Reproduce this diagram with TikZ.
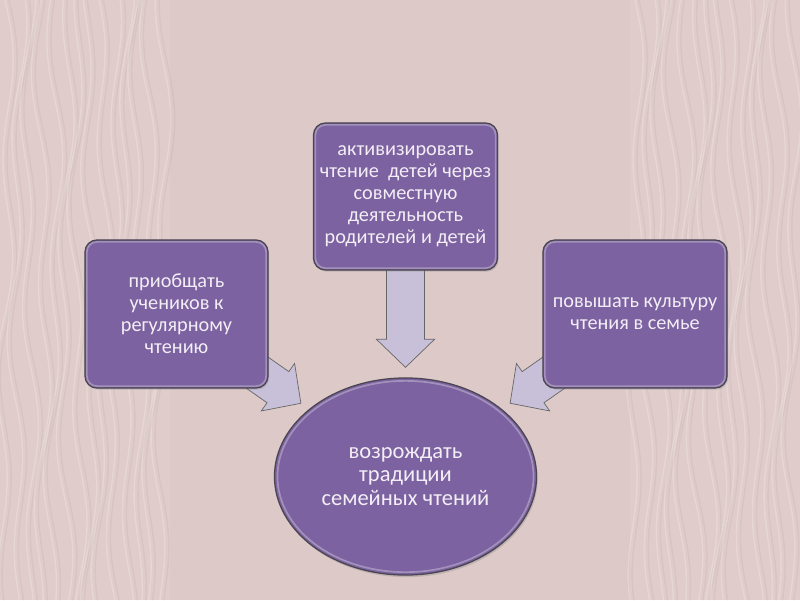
\documentclass[tikz,border=0pt]{standalone}
\usepackage{fontspec}
\setmainfont{Carlito}
\usepackage{tikz}
\usetikzlibrary{calc,positioning,shapes.geometric,shadows}
\definecolor{slidebg}{HTML}{DCC9C8}
\definecolor{stripbg}{HTML}{DFCCCB}
\definecolor{boxpurple}{HTML}{7C62A0}
\definecolor{boxedge}{HTML}{4A4550}
\definecolor{arrowfill}{HTML}{C8C0D8}
\definecolor{textlight}{HTML}{F3EEF5}
\pgfdeclarelayer{bg}
\pgfdeclarelayer{arrowlayer}
\pgfsetlayers{bg,arrowlayer,main}
\tikzset{
  goalbox/.style={draw=boxedge,line width=0.9pt,fill=boxpurple,rounded corners=0.3cm,align=center,text=textlight,
    font=\fontsize{14.4}{15.6}\selectfont,inner sep=2pt,drop shadow={opacity=0.3,shadow xshift=0.8pt,shadow yshift=-1.2pt}},
  goaloval/.style={ellipse,draw=boxedge,line width=0.9pt,fill=boxpurple,align=center,text=textlight,inner sep=0pt,
    font=\fontsize{16}{16.5}\selectfont,minimum width=6.55cm,minimum height=4.925cm,drop shadow={opacity=0.3,shadow xshift=0.8pt,shadow yshift=-1.5pt}},
  rim/.style={white,opacity=0.3,line width=1.2pt},
  blockarr/.style={draw=black!60,line width=0.5pt,fill=arrowfill,line join=miter},
  wave/.style={line width=1pt,line cap=round}
}

\begin{document}
\begin{tikzpicture}[x=0.025cm,y=-0.025cm]
\useasboundingbox (0,0) rectangle (800,600);
% slide background with the two grainy side strips
\begin{pgfonlayer}{bg}
\fill[slidebg] (0,0) rectangle (800,600);
\fill[stripbg] (0,0) rectangle (170,600);
\fill[stripbg] (630,0) rectangle (800,600);
\foreach \s in {0,630}{
  \foreach \k in {0,...,13}{
    \draw[wave,white,opacity=0.22] plot[variable=\t,domain=0:600,samples=70,smooth]
      ({\s+5+\k*12+6*sin(\t*1.7+\k*47)+4*sin(\t*0.6+\k*83)},\t);
    \draw[wave,black,opacity=0.035] plot[variable=\t,domain=0:600,samples=70,smooth]
      ({\s+9+\k*12+6*sin(\t*1.7+\k*47)+4*sin(\t*0.6+\k*83)},\t);
  }
}
\end{pgfonlayer}

\node[goalbox,minimum width=4.6cm,minimum height=3.675cm] (read) at (405.5,196.5)
  {активизировать\\чтение~ детей через\\совместную\\деятельность\\родителей и детей};
\node[goalbox,minimum width=4.575cm,minimum height=3.7cm] (habit) at (176.5,314)
  {приобщать\\учеников к\\регулярному\\чтению};
\node[goalbox,minimum width=4.6cm,minimum height=3.7cm] (culture) at (635,314)
  {повышать культуру\\чтения в семье};
\node[goaloval] (revive) at (405.5,476.5) {возрождать\\традиции\\семейных чтений};

% soft inner rims
\foreach \b in {read,habit,culture}{
  \draw[rim,rounded corners=0.25cm] ([shift={(1.8pt,-1.8pt)}]\b.north west) rectangle ([shift={(-1.8pt,1.8pt)}]\b.south east);
}
\draw[rim] (revive.center) ellipse [x radius=3.2cm,y radius=2.39cm];

% block arrows towards the oval
\coordinate (tipT) at ($(revive.north)!-0.25cm!(revive.center)$);
\coordinate (tipL) at ($(revive.145)!-0.25cm!(revive.center)$);
\coordinate (tipR) at ($(revive.35)!-0.25cm!(revive.center)$);
\coordinate (tailL) at ($(tipL)!-2.4cm!(revive.center)$);
\coordinate (tailR) at ($(tipR)!-2.4cm!(revive.center)$);
\begin{pgfonlayer}{arrowlayer}
\foreach \from/\to/\n in {read.center/tipT/T,tailL/tipL/L,tailR/tipR/R}{
  \coordinate (base\n) at ($(\to)!0.7cm!(\from)$);
  \draw[blockarr] ($(\from)!0.475cm!90:(\to)$) -- ($(base\n)!0.475cm!90:(\to)$) -- ($(base\n)!0.725cm!90:(\to)$)
    -- (\to) -- ($(base\n)!0.725cm!-90:(\to)$) -- ($(base\n)!0.475cm!-90:(\to)$) -- ($(\from)!0.475cm!-90:(\to)$) -- cycle;
}
\end{pgfonlayer}
\end{tikzpicture}
\end{document}
